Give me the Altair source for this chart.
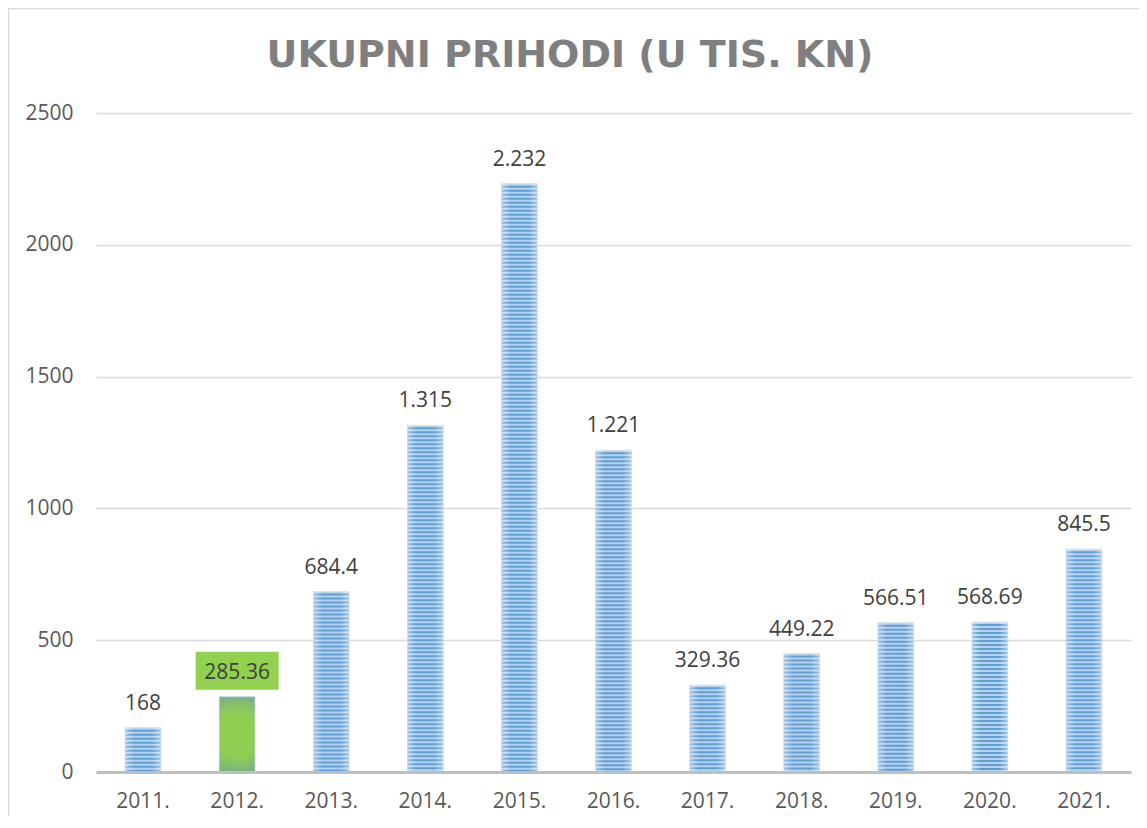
import altair as alt
import pandas as pd

TITLE = "UKUPNI PRIHODI (U TIS. KN)"
years = ["2011.", "2012.", "2013.", "2014.", "2015.", "2016.", "2017.", "2018.", "2019.", "2020.", "2021."]
values = [168, 285.36, 684.4, 1315, 2232, 1221, 329.36, 449.22, 566.51, 568.69, 845.5]
labels = ["168", "285.36", "684.4", "1.315", "2.232", "1.221", "329.36", "449.22", "566.51", "568.69", "845.5"]
y_ticks = [0, 500, 1000, 1500, 2000, 2500]
highlight_year = "2012."

df = pd.DataFrame({"year": years, "value": values, "label": labels})
tdf = pd.DataFrame({"t": [TITLE]})

W, H = 1035, 659
FONT = "Open Sans"

xenc = alt.X("year:N", sort=years,
             scale=alt.Scale(paddingInner=0.62, paddingOuter=0.31),
             axis=alt.Axis(title=None, labelAngle=0, labelFontSize=21, labelColor="#595959",
                           labelFont=FONT, labelPadding=18, ticks=False,
                           domainColor="#bfbfbf", domainWidth=3, grid=False, zindex=1))
yscale = alt.Scale(domain=[0, 2500], nice=False)
yenc = alt.Y("value:Q", scale=yscale,
             axis=alt.Axis(title=None, values=y_ticks, format="d", labelFontSize=21, labelColor="#595959",
                           labelFont=FONT, labelPadding=23, ticks=False, domain=False,
                           gridColor="#d9d9d9", gridWidth=1.5, zindex=0))

blue_grad = {"gradient": "linear", "x1": 0, "y1": 0, "x2": 1, "y2": 0,
             "stops": [{"offset": 0, "color": "#9fc3e7"},
                       {"offset": 0.25, "color": "#5e9dd6"},
                       {"offset": 0.75, "color": "#5e9dd6"},
                       {"offset": 1, "color": "#9fc3e7"}]}
green_grad = {"gradient": "radial", "x1": 0.5, "y1": 0.5, "x2": 0.5, "y2": 0.5, "r1": 0, "r2": 0.7,
              "stops": [{"offset": 0, "color": "#92d050"},
                        {"offset": 0.45, "color": "#8fcc55"},
                        {"offset": 1, "color": "#659aa8"}]}

base = alt.Chart(df)

blue_bars = base.transform_filter(alt.datum.year != highlight_year).mark_bar(
    fill=blue_grad, stroke="#c9ddf1", strokeWidth=0.8
).encode(x=xenc, y=yenc)

stripes = base.transform_filter(alt.datum.year != highlight_year).mark_rule(
    color="#ffffff", opacity=0.55, strokeWidth=35, strokeDash=[2, 2], strokeCap="butt"
).encode(x=alt.X("year:N", sort=years), y=alt.Y("value:Q", scale=yscale), y2=alt.datum(0))

green_bar = base.transform_filter(alt.datum.year == highlight_year).mark_bar(
    fill=green_grad, stroke="#b9d3ea", strokeWidth=0.8
).encode(x=alt.X("year:N", sort=years), y=alt.Y("value:Q", scale=yscale))

box = base.transform_filter(alt.datum.year == highlight_year).mark_point(
    shape="M-1,-0.46L1,-0.46L1,0.46L-1,0.46Z", size=6889, filled=True,
    fill="#92d050", opacity=1, strokeWidth=0, yOffset=-26
).encode(x=alt.X("year:N", sort=years), y=alt.Y("value:Q", scale=yscale))

texts = base.mark_text(
    font=FONT, fontSize=21, color="#404040", baseline="alphabetic", align="center", dy=-18
).encode(x=alt.X("year:N", sort=years), y=alt.Y("value:Q", scale=yscale), text="label:N")

title = alt.Chart(tdf).mark_text(
    font="DejaVu Sans", fontSize=38, fontWeight="bold", color="#7f7f7f", align="center", baseline="alphabetic"
).encode(x=alt.value(474), y=alt.value(-46), text="t:N")

border = alt.Chart(tdf).mark_rect(
    fill=None, stroke="#d9d9d9", strokeWidth=1.5
).encode(x=alt.value(-87.5), x2=alt.value(1200), y=alt.value(-104.5), y2=alt.value(900))

chart = alt.layer(border, blue_bars, stripes, green_bar, box, texts, title).properties(
    width=W, height=H,
    autosize=alt.AutoSizeParams(type="none"),
    padding={"left": 88, "top": 105, "right": 8, "bottom": 44},
).configure(background="white").configure_view(stroke=None)

chart.save("out.html", embed_options={"renderer": "svg", "actions": False})
